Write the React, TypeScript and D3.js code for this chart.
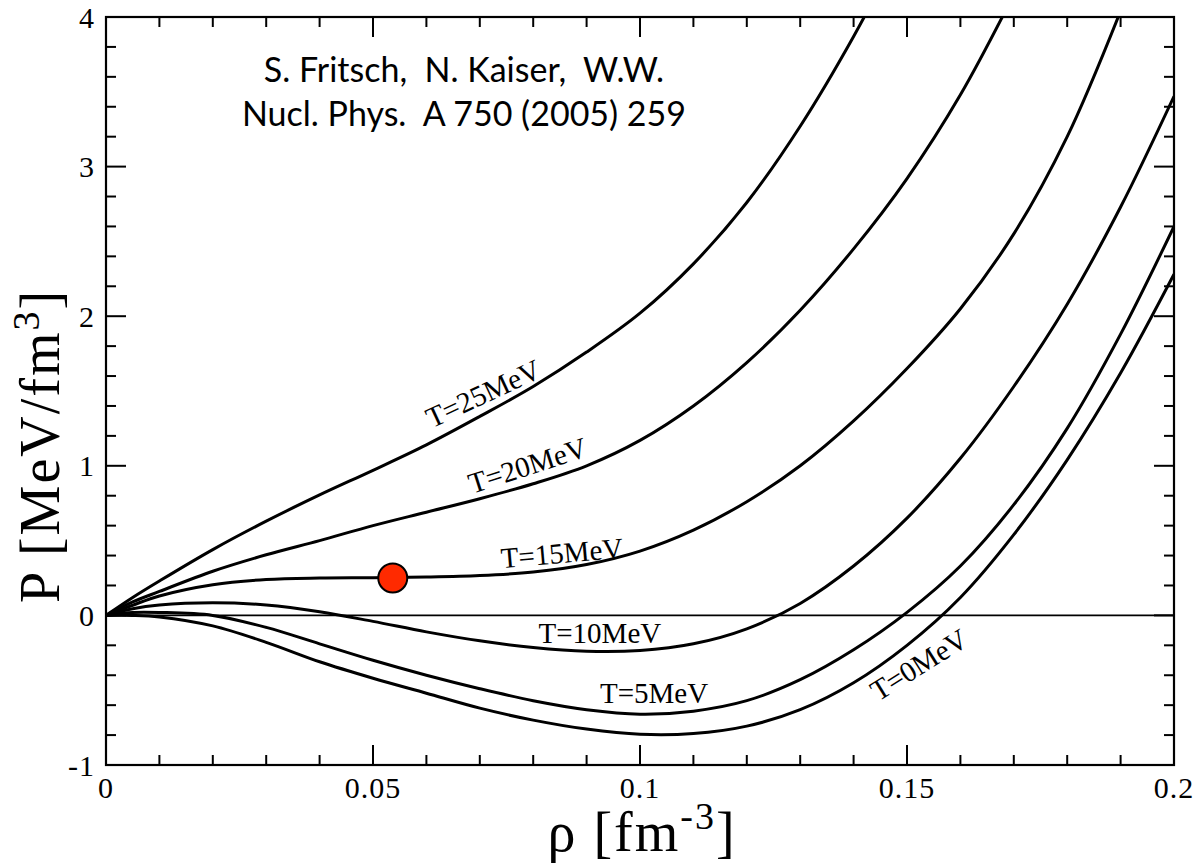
import React from "react";
import * as d3 from "d3";

// density grid (fm^-3) and pressure (MeV/fm^3) for each temperature
const rho = [0, 0.005, 0.01, 0.02, 0.03, 0.04, 0.05, 0.06, 0.07, 0.08, 0.09, 0.1, 0.11, 0.12, 0.13, 0.14, 0.15, 0.16, 0.17, 0.18, 0.19, 0.2];

const pT0 = [0, 0.0, -0.01, -0.07, -0.18, -0.31, -0.42, -0.52, -0.62, -0.7, -0.76, -0.795, -0.79, -0.74, -0.63, -0.45, -0.2, 0.12, 0.54, 1.04, 1.62, 2.28];
const pT5 = [0, 0.02, 0.02, 0.0, -0.08, -0.19, -0.3, -0.4, -0.49, -0.57, -0.63, -0.66, -0.64, -0.57, -0.43, -0.23, 0.02, 0.33, 0.74, 1.25, 1.88, 2.6];
const pT10 = [0, 0.045, 0.07, 0.085, 0.07, 0.025, -0.04, -0.11, -0.17, -0.215, -0.24, -0.235, -0.19, -0.09, 0.08, 0.33, 0.65, 1.05, 1.53, 2.08, 2.73, 3.47];
const pT15 = [0, 0.068, 0.13, 0.205, 0.24, 0.25, 0.252, 0.256, 0.266, 0.29, 0.34, 0.43, 0.57, 0.76, 1.0, 1.3, 1.65, 2.05, 2.55, 3.2, 4.04];
const pT20 = [0, 0.09, 0.16, 0.295, 0.405, 0.5, 0.6, 0.69, 0.78, 0.88, 1.0, 1.17, 1.4, 1.69, 2.04, 2.45, 2.92, 3.48, 4.15];
const pT25 = [0, 0.12, 0.23, 0.44, 0.63, 0.805, 0.97, 1.14, 1.33, 1.53, 1.76, 2.02, 2.35, 2.76, 3.27, 3.87, 4.55];

const series = [pT0, pT5, pT10, pT15, pT20, pT25];

// curve labels
const curveLabels = ["T=25MeV", "T=20MeV", "T=15MeV", "T=10MeV", "T=5MeV", "T=0MeV"];
const labelRho = [0.061, 0.0686, 0.0741, 0.081, 0.0925, 0.1446];
const labelP = [1.25, 0.813, 0.315, -0.187, -0.584, -0.577];
const labelAngle = [-25, -18, -5, 0, 0, -32];

// critical point marker
const critRho = 0.0537;
const critP = 0.25;

const xMajor = [0, 0.05, 0.1, 0.15, 0.2];
const xTickLabels = ["0", "0.05", "0.1", "0.15", "0.2"];
const yMajor = [-1, 0, 1, 2, 3, 4];
const yTickLabels = ["-1", "0", "1", "2", "3", "4"];

const W = 1197;
const H = 863;
const left = 106;
const right = 1174;
const top = 17;
const bottom = 765;

const serif = "'Liberation Serif', 'Times New Roman', serif";

export default function App() {
  const x = d3.scaleLinear().domain([0, 0.2]).range([left, right]);
  const y = d3.scaleLinear().domain([-1, 4]).range([bottom, top]);

  const line = d3
    .line<[number, number]>()
    .x((d) => x(d[0]))
    .y((d) => y(d[1]))
    .curve(d3.curveCatmullRom.alpha(0.5));

  const xMinor = d3.range(0, 21).map((i) => i * 0.01).filter((_, i) => i % 5 !== 0);
  const yMinor = d3.range(-5, 21).map((i) => i * 0.2).filter((_, i) => i % 5 !== 0);

  return (
    <svg
      width={W}
      height={H}
      style={{ position: "absolute", left: 0, top: 0, background: "#fff" }}
    >
      <defs>
        <clipPath id="plot">
          <rect x={left} y={top} width={right - left} height={bottom - top} />
        </clipPath>
      </defs>

      {/* zero line */}
      <line x1={left} x2={right} y1={y(0)} y2={y(0)} stroke="#000" strokeWidth={1.6} />

      <g clipPath="url(#plot)">
        {series.map((p, i) => (
          <path
            key={i}
            d={line(p.map((v, j) => [rho[j], v] as [number, number])) || ""}
            fill="none"
            stroke="#000"
            strokeWidth={3}
          />
        ))}
      </g>

      <circle cx={x(critRho)} cy={y(critP)} r={14.5} fill="#ff2a00" stroke="#000" strokeWidth={2} />

      {curveLabels.map((t, i) => (
        <text
          key={t}
          transform={`translate(${x(labelRho[i])},${y(labelP[i])}) rotate(${labelAngle[i]})`}
          fontFamily={serif}
          fontSize={29}
        >
          {t}
        </text>
      ))}

      {/* ticks, inward on all four sides */}
      <g stroke="#000" strokeWidth={2}>
        {xMajor.map((v) => (
          <g key={"xM" + v}>
            <line x1={x(v)} x2={x(v)} y1={bottom} y2={bottom - 20} />
            <line x1={x(v)} x2={x(v)} y1={top} y2={top + 20} />
          </g>
        ))}
        {xMinor.map((v) => (
          <g key={"xm" + v}>
            <line x1={x(v)} x2={x(v)} y1={bottom} y2={bottom - 10} />
            <line x1={x(v)} x2={x(v)} y1={top} y2={top + 10} />
          </g>
        ))}
        {yMajor.map((v) => (
          <g key={"yM" + v}>
            <line x1={left} x2={left + 20} y1={y(v)} y2={y(v)} />
            <line x1={right} x2={right - 20} y1={y(v)} y2={y(v)} />
          </g>
        ))}
        {yMinor.map((v) => (
          <g key={"ym" + v}>
            <line x1={left} x2={left + 10} y1={y(v)} y2={y(v)} />
            <line x1={right} x2={right - 10} y1={y(v)} y2={y(v)} />
          </g>
        ))}
      </g>

      <rect x={left} y={top} width={right - left} height={bottom - top} fill="none" stroke="#000" strokeWidth={2.2} />

      {xMajor.map((v, i) => (
        <text key={"xl" + v} x={x(v)} y={798} textAnchor="middle" fontFamily={serif} fontSize={30} letterSpacing={1}>
          {xTickLabels[i]}
        </text>
      ))}
      {yMajor.map((v, i) => (
        <text key={"yl" + v} x={95} y={y(v)} dy="0.35em" textAnchor="end" fontFamily={serif} fontSize={30} letterSpacing={1}>
          {yTickLabels[i]}
        </text>
      ))}

      {/* axis titles */}
      <text x={642} y={851} textAnchor="middle" fontFamily={serif} fontSize={56} letterSpacing={2}>
        ρ [fm
        <tspan dy={-22} fontSize={38}>-3</tspan>
        <tspan dy={22}>]</tspan>
      </text>
      <text
        transform="translate(59,446) rotate(-90)"
        textAnchor="middle"
        fontFamily={serif}
        fontSize={56}
        letterSpacing={2}
      >
        P [MeV/fm
        <tspan dy={-20} fontSize={38}>3</tspan>
        <tspan dy={20}>]</tspan>
      </text>

      {/* reference */}
      <g fontFamily="Lato, 'Open Sans', sans-serif" fontSize={34} textAnchor="middle">
        <text x={464} y={82} xmlSpace="preserve">S. Fritsch,  N. Kaiser,  W.W.</text>
        <text x={464} y={126} xmlSpace="preserve">Nucl. Phys.  A 750 (2005) 259</text>
      </g>
    </svg>
  );
}
